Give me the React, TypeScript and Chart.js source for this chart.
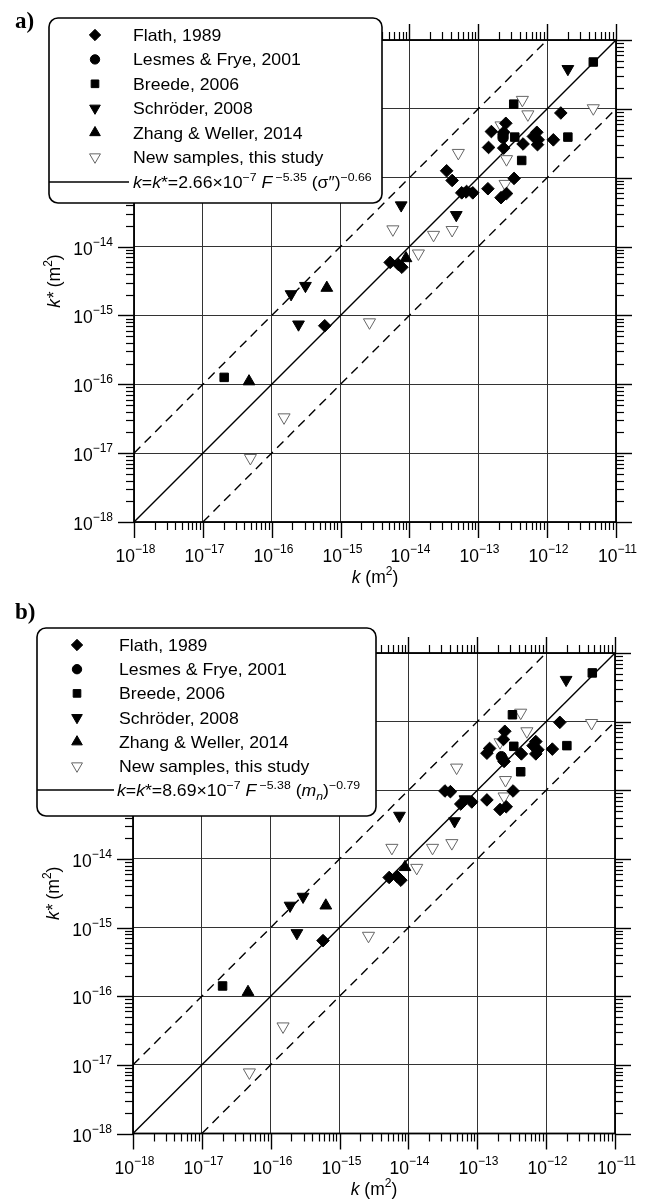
import React, { useEffect, useRef } from "react";
import { Chart, registerables } from "chart.js";
import { drawPoint } from "chart.js/helpers";

Chart.register(...registerables);

// ---------- axes ----------
const AXIS_MIN = 1e-18;
const AXIS_MAX = 1e-11;
const TICK_VALUES = [1e-18, 1e-17, 1e-16, 1e-15, 1e-14, 1e-13, 1e-12, 1e-11];
const TICK_EXPONENT_LABELS = ["−18", "−17", "−16", "−15", "−14", "−13", "−12", "−11"];
const MINOR_MULTIPLIERS = [2, 3, 4, 5, 6, 7, 8, 9];

// ---------- legend ----------
const SERIES_LABELS = [
  "Flath, 1989",
  "Lesmes & Frye, 2001",
  "Breede, 2006",
  "Schröder, 2008",
  "Zhang & Weller, 2014",
  "New samples, this study",
];

// ---------- reference lines (k, k*) ----------
const ONE_TO_ONE_K = [1e-18, 1e-11];
const ONE_TO_ONE_KSTAR = [1e-18, 1e-11];
const UPPER_K = [1e-18, 1e-12];
const UPPER_KSTAR = [1e-17, 1e-11];
const LOWER_K = [1e-17, 1e-11];
const LOWER_KSTAR = [1e-18, 1e-12];

// ---------- panel a data: [k, k*] (m²) ----------
const A_FLATH: [number, number][] = [
  [1.58e-12, 8.71e-13], [2.51e-13, 6.17e-13], [1.55e-13, 4.68e-13], [2.34e-13, 4.57e-13],
  [7.08e-13, 4.57e-13], [6.31e-13, 3.98e-13], [7.41e-13, 3.55e-13], [7.24e-13, 3.02e-13],
  [1.23e-12, 3.55e-13], [4.47e-13, 3.09e-13], [1.41e-13, 2.75e-13], [2.34e-13, 2.69e-13],
  [3.47e-14, 1.26e-13], [4.17e-14, 9.12e-14], [3.31e-13, 9.77e-14], [1.38e-13, 6.92e-14],
  [2.14e-13, 5.13e-14], [2.57e-13, 5.89e-14], [5.75e-14, 6.03e-14], [6.76e-14, 6.31e-14],
  [8.32e-14, 6.03e-14], [5.25e-15, 5.89e-15], [6.92e-15, 5.5e-15], [7.76e-15, 5.01e-15],
  [5.89e-16, 7.08e-16],
];
const A_LESMES: [number, number][] = [[2.29e-13, 4.22e-13], [2.29e-13, 3.8e-13]];
const A_BREEDE: [number, number][] = [
  [4.68e-12, 4.79e-12], [3.27e-13, 1.17e-12], [3.39e-13, 3.89e-13],
  [2.0e-12, 3.89e-13], [4.27e-13, 1.78e-13], [2.04e-17, 1.26e-16],
];
const A_SCHRODER: [number, number][] = [
  [2.0e-12, 3.8e-12], [6.61e-14, 6.31e-14], [7.59e-15, 3.98e-14], [4.79e-14, 2.88e-14],
  [1.91e-16, 2.04e-15], [3.09e-16, 2.69e-15], [2.45e-16, 7.41e-16],
];
const A_ZHANG: [number, number][] = [[8.91e-15, 6.76e-15], [6.31e-16, 2.51e-15], [4.68e-17, 1.1e-16]];
const A_NEW: [number, number][] = [
  [4.37e-13, 1.35e-12], [5.25e-13, 8.32e-13], [4.68e-12, 1.02e-12], [2.14e-13, 5.75e-13],
  [2.57e-13, 1.86e-13], [5.13e-14, 2.29e-13], [2.45e-13, 8.13e-14], [5.75e-15, 1.78e-14],
  [2.24e-14, 1.48e-14], [4.17e-14, 1.74e-14], [1.35e-14, 7.94e-15], [2.63e-15, 7.94e-16],
  [1.51e-16, 3.31e-17], [4.9e-17, 8.51e-18],
];

// ---------- panel b data: [k, k*] (m²) ----------
const B_FLATH: [number, number][] = [
  [1.58e-12, 9.77e-13], [2.51e-13, 7.24e-13], [2.4e-13, 5.5e-13], [1.51e-13, 4.07e-13],
  [1.38e-13, 3.47e-13], [7.08e-13, 5.13e-13], [6.46e-13, 4.47e-13], [7.59e-13, 3.89e-13],
  [7.08e-13, 3.39e-13], [1.23e-12, 3.98e-13], [4.37e-13, 3.39e-13], [2.45e-13, 2.63e-13],
  [3.31e-13, 9.77e-14], [1.38e-13, 7.24e-14], [2.14e-13, 5.25e-14], [2.63e-13, 5.75e-14],
  [3.39e-14, 9.77e-14], [4.07e-14, 9.55e-14], [5.75e-14, 6.31e-14], [8.32e-14, 6.76e-14],
  [5.25e-15, 5.37e-15], [6.92e-15, 5.5e-15], [7.76e-15, 4.9e-15], [5.75e-16, 6.46e-16],
];
const B_LESMES: [number, number][] = [[2.24e-13, 3.09e-13], [2.4e-13, 2.75e-13]];
const B_BREEDE: [number, number][] = [
  [4.68e-12, 5.13e-12], [3.24e-13, 1.26e-12], [3.39e-13, 4.37e-13],
  [2.0e-12, 4.47e-13], [4.27e-13, 1.86e-13], [2.0e-17, 1.41e-16],
];
const B_SCHRODER: [number, number][] = [
  [1.95e-12, 4.07e-12], [6.61e-14, 7.41e-14], [7.41e-15, 4.27e-14], [4.68e-14, 3.55e-14],
  [1.91e-16, 2.09e-15], [2.95e-16, 2.82e-15], [2.4e-16, 8.32e-16],
];
const B_ZHANG: [number, number][] = [[8.91e-15, 7.59e-15], [6.31e-16, 2.09e-15], [4.68e-17, 1.15e-16]];
const B_NEW: [number, number][] = [
  [4.27e-13, 1.35e-12], [5.25e-13, 7.24e-13], [4.57e-12, 9.55e-13], [2.14e-13, 5.01e-13],
  [2.57e-13, 1.41e-13], [5.01e-14, 2.14e-13], [2.45e-13, 8.13e-14], [5.75e-15, 1.45e-14],
  [2.24e-14, 1.45e-14], [4.27e-14, 1.7e-14], [1.32e-14, 7.41e-15], [2.63e-15, 7.59e-16],
  [1.51e-16, 3.63e-17], [4.9e-17, 7.76e-18],
];

// ---------- styles ----------
const MARKERS = [
  { pointStyle: "rectRot", radius: 6.3, rotation: 0, fill: "#000", stroke: "#000", bw: 1 },
  { pointStyle: "circle", radius: 5.2, rotation: 0, fill: "#000", stroke: "#000", bw: 1 },
  { pointStyle: "rect", radius: 6, rotation: 0, fill: "#000", stroke: "#000", bw: 1 },
  { pointStyle: "triangle", radius: 6.8, rotation: 180, fill: "#000", stroke: "#000", bw: 1 },
  { pointStyle: "triangle", radius: 6.8, rotation: 0, fill: "#000", stroke: "#000", bw: 1 },
  { pointStyle: "triangle", radius: 7, rotation: 180, fill: "#fff", stroke: "#666", bw: 1 },
];

const SANS = "'Liberation Sans', Arial, Helvetica, sans-serif";
const SERIF = "'Liberation Serif', 'Times New Roman', serif";

type Run = { t: string; size?: number; italic?: boolean; bold?: boolean; dy?: number; serif?: boolean };

function fontOf(r: Run, base: number) {
  return `${r.italic ? "italic " : ""}${r.bold ? "bold " : ""}${r.size ?? base}px ${r.serif ? SERIF : SANS}`;
}

function drawRuns(ctx: CanvasRenderingContext2D, runs: Run[], x: number, y: number, align: "left" | "center" | "right", base: number, sx = 1) {
  let total = 0;
  const widths: number[] = [];
  for (const r of runs) {
    ctx.font = fontOf(r, base);
    const w = ctx.measureText(r.t).width;
    widths.push(w);
    total += w;
  }
  const start = align === "left" ? x : align === "center" ? x - (total * sx) / 2 : x - total * sx;
  ctx.save();
  ctx.translate(start, y);
  ctx.scale(sx, 1);
  ctx.textAlign = "left";
  ctx.textBaseline = "alphabetic";
  ctx.fillStyle = "#000";
  let cx = 0;
  runs.forEach((r, i) => {
    ctx.font = fontOf(r, base);
    ctx.fillText(r.t, cx, r.dy ?? 0);
    cx += widths[i];
  });
  ctx.restore();
}

const FORMULA_A: Run[] = [
  { t: "k", italic: true }, { t: "=" }, { t: "k", italic: true }, { t: "*=2.66×10" },
  { t: "−7", size: 11.5, dy: -7 }, { t: " " }, { t: "F", italic: true },
  { t: " −5.35", size: 11.5, dy: -7 }, { t: " (σ″)" }, { t: "−0.66", size: 11.5, dy: -7 },
];
const FORMULA_B: Run[] = [
  { t: "k", italic: true }, { t: "=" }, { t: "k", italic: true }, { t: "*=8.69×10" },
  { t: "−7", size: 11.5, dy: -7 }, { t: " " }, { t: "F", italic: true },
  { t: " −5.38", size: 11.5, dy: -7 }, { t: " (" }, { t: "m", italic: true },
  { t: "n", italic: true, size: 11.5, dy: 4 }, { t: ")" }, { t: "−0.79", size: 11.5, dy: -7 },
];

type Geom = {
  top: number; h: number; left: number; right: number; plotTop: number; plotBottom: number;
  lx: number; ly: number; lw: number; lh: number; markerX: number; textX: number;
  rowY0: number; rowDy: number; lineX1: number; formulaX: number; formulaY: number;
  tagY: number; tag: string;
};

const GEOM_A: Geom = {
  top: 0, h: 595, left: 134, right: 616, plotTop: 40, plotBottom: 522,
  lx: 49, ly: 18, lw: 333, lh: 185, markerX: 95, textX: 133, rowY0: 35, rowDy: 24.4,
  lineX1: 129, formulaX: 133, formulaY: 182, tagY: 28, tag: "a)",
};
const GEOM_B: Geom = {
  top: 595, h: 606, left: 133, right: 615, plotTop: 58, plotBottom: 538.5,
  lx: 37, ly: 33, lw: 339, lh: 188, markerX: 77, textX: 119, rowY0: 50, rowDy: 24.2,
  lineX1: 114, formulaX: 117, formulaY: 195, tagY: 24, tag: "b)",
};

function makeDecor(g: Geom, formula: Run[]) {
  return {
    id: "decor",
    afterDraw(chart: any) {
      const ctx: CanvasRenderingContext2D = chart.ctx;
      const { left, right, top, bottom } = chart.chartArea;
      const xs = chart.scales.x;
      const ys = chart.scales.y;
      ctx.save();
      ctx.strokeStyle = "#000";
      const MAJ = 16;
      const MIN = 8;
      const line = (x1: number, y1: number, x2: number, y2: number) => {
        ctx.beginPath();
        ctx.moveTo(x1, y1);
        ctx.lineTo(x2, y2);
        ctx.stroke();
      };
      TICK_VALUES.forEach((v, i) => {
        const px = Math.round(xs.getPixelForValue(v)) + 0.5;
        const py = Math.round(ys.getPixelForValue(v)) + 0.5;
        ctx.lineWidth = 1.4;
        line(px, bottom, px, bottom + MAJ);
        line(px, top, px, top - MAJ);
        line(left, py, left - MAJ, py);
        line(right, py, right + MAJ, py);
        if (i < TICK_VALUES.length - 1) {
          MINOR_MULTIPLIERS.forEach((m) => {
            const mx = Math.round(xs.getPixelForValue(v * m)) + 0.5;
            const my = Math.round(ys.getPixelForValue(v * m)) + 0.5;
            ctx.lineWidth = 1.2;
            line(mx, bottom, mx, bottom + MIN);
            line(mx, top, mx, top - MIN);
            line(left, my, left - MIN, my);
            line(right, my, right + MIN, my);
          });
        }
        // tick labels
        const lab: Run[] = [{ t: "10" }, { t: TICK_EXPONENT_LABELS[i], size: 12, dy: -9 }];
        drawRuns(ctx, lab, px + 1, bottom + 40, "center", 17.5);
        drawRuns(ctx, lab, left - 21, py + 7, "right", 17.5);
      });
      // frame
      ctx.lineWidth = 1.8;
      ctx.strokeRect(left, top, right - left, bottom - top);

      // axis titles
      drawRuns(ctx, [{ t: "k", italic: true }, { t: " (m" }, { t: "2", size: 12, dy: -8 }, { t: ")" }],
        (left + right) / 2, bottom + 61, "center", 17.5);
      ctx.save();
      ctx.translate(left - 74, (top + bottom) / 2);
      ctx.rotate(-Math.PI / 2);
      drawRuns(ctx, [{ t: "k*", italic: true }, { t: " (m" }, { t: "2", size: 12, dy: -8 }, { t: ")" }],
        0, 0, "center", 17.5);
      ctx.restore();

      // panel tag
      drawRuns(ctx, [{ t: g.tag, bold: true, serif: true }], 15, g.tagY, "left", 23);

      // legend box
      const r = 9;
      const { lx, ly, lw, lh } = g;
      ctx.beginPath();
      ctx.moveTo(lx + r, ly);
      ctx.lineTo(lx + lw - r, ly);
      ctx.arcTo(lx + lw, ly, lx + lw, ly + r, r);
      ctx.lineTo(lx + lw, ly + lh - r);
      ctx.arcTo(lx + lw, ly + lh, lx + lw - r, ly + lh, r);
      ctx.lineTo(lx + r, ly + lh);
      ctx.arcTo(lx, ly + lh, lx, ly + lh - r, r);
      ctx.lineTo(lx, ly + r);
      ctx.arcTo(lx, ly, lx + r, ly, r);
      ctx.closePath();
      ctx.fillStyle = "#fff";
      ctx.fill();
      ctx.lineWidth = 1.6;
      ctx.strokeStyle = "#000";
      ctx.stroke();

      SERIES_LABELS.forEach((label, i) => {
        const y = g.rowY0 + i * g.rowDy;
        const mk = MARKERS[i];
        ctx.save();
        ctx.fillStyle = mk.fill;
        ctx.strokeStyle = mk.stroke;
        ctx.lineWidth = mk.bw;
        drawPoint(ctx, { pointStyle: mk.pointStyle as any, rotation: mk.rotation, radius: mk.radius * 0.9, borderWidth: mk.bw }, g.markerX, y);
        ctx.restore();
        drawRuns(ctx, [{ t: label }], g.textX, y + 6, "left", 16.5, 1.07);
      });
      ctx.lineWidth = 1.5;
      ctx.strokeStyle = "#000";
      line(lx, g.formulaY, g.lineX1, g.formulaY);
      drawRuns(ctx, formula, g.formulaX, g.formulaY + 6, "left", 16.5, 1.07);
      ctx.restore();
    },
  };
}

function toXY(arr: [number, number][]) {
  return arr.map(([k, ks]) => ({ x: k, y: ks }));
}
function lineXY(ks: number[], kst: number[]) {
  return ks.map((k, i) => ({ x: k, y: kst[i] }));
}

function Panel({ g, series, formula }: { g: Geom; series: [number, number][][]; formula: Run[] }) {
  const ref = useRef<HTMLCanvasElement>(null);
  useEffect(() => {
    const pointSets = series.map((s, i) => {
      const mk = MARKERS[i];
      return {
        label: SERIES_LABELS[i],
        data: toXY(s),
        pointStyle: mk.pointStyle,
        pointRotation: mk.rotation,
        pointRadius: mk.radius,
        pointBackgroundColor: mk.fill,
        pointBorderColor: mk.stroke,
        pointBorderWidth: mk.bw,
        showLine: false,
        order: 0,
      };
    });
    const lineBase = { pointRadius: 0, showLine: true, borderColor: "#000", borderWidth: 1.4, order: 5, fill: false };
    const chart = new Chart(ref.current!, {
      type: "scatter",
      data: {
        datasets: [
          ...pointSets,
          { ...lineBase, label: "1:1", data: lineXY(ONE_TO_ONE_K, ONE_TO_ONE_KSTAR) },
          { ...lineBase, label: "x10", data: lineXY(UPPER_K, UPPER_KSTAR), borderDash: [9, 6] },
          { ...lineBase, label: "/10", data: lineXY(LOWER_K, LOWER_KSTAR), borderDash: [9, 6] },
        ] as any,
      },
      options: {
        responsive: false,
        animation: false,
        devicePixelRatio: 1,
        layout: { padding: { top: g.plotTop, right: 651 - g.right, left: 0, bottom: 0 } },
        plugins: { legend: { display: false }, tooltip: { enabled: false } },
        scales: {
          x: {
            type: "logarithmic",
            position: "bottom",
            min: AXIS_MIN,
            max: AXIS_MAX,
            afterBuildTicks: (s: any) => { s.ticks = TICK_VALUES.map((value) => ({ value })); },
            afterFit: (s: any) => { s.height = g.h - g.plotBottom; },
            ticks: { display: false },
            grid: { color: "#333", lineWidth: 1, drawTicks: false },
            border: { display: false },
          },
          y: {
            type: "logarithmic",
            position: "left",
            min: AXIS_MIN,
            max: AXIS_MAX,
            afterBuildTicks: (s: any) => { s.ticks = TICK_VALUES.map((value) => ({ value })); },
            afterFit: (s: any) => { s.width = g.left; },
            ticks: { display: false },
            grid: { color: "#333", lineWidth: 1, drawTicks: false },
            border: { display: false },
          },
        },
      } as any,
      plugins: [makeDecor(g, formula)],
    });
    return () => chart.destroy();
  }, []);
  return (
    <canvas
      ref={ref}
      width={651}
      height={g.h}
      style={{ position: "absolute", left: 0, top: g.top, width: 651, height: g.h }}
    />
  );
}

export default function App() {
  return (
    <div style={{ position: "absolute", left: 0, top: 0, width: 651, height: 1201, background: "#fff", overflow: "hidden" }}>
      <Panel g={GEOM_A} series={[A_FLATH, A_LESMES, A_BREEDE, A_SCHRODER, A_ZHANG, A_NEW]} formula={FORMULA_A} />
      <Panel g={GEOM_B} series={[B_FLATH, B_LESMES, B_BREEDE, B_SCHRODER, B_ZHANG, B_NEW]} formula={FORMULA_B} />
    </div>
  );
}
